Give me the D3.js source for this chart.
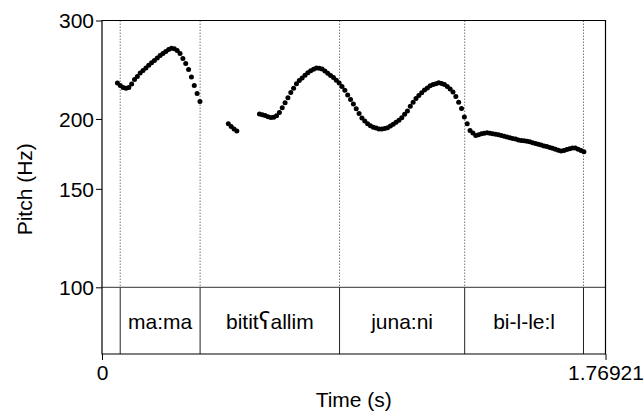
<!DOCTYPE html>
<html><head><meta charset="utf-8">
<script src="https://cdn.jsdelivr.net/npm/d3@7"></script>
<style>
html,body{margin:0;padding:0;background:#fff;}
svg text{font-family:"Liberation Sans",Arial,Helvetica,sans-serif;fill:#000;}
</style></head>
<body><svg id="c" width="644" height="413"></svg>
<script>
// ---- data ----
const frameStep = 0.01;           // pitch frame step (s)
const totalDuration = 1.76921;    // s
const yTicks = [100, 150, 200, 300];
const seg1Start = 0.0542;
const seg1Hz = [232.0,229.6,227.7,226.9,227.7,231.0,235.3,238.2,241.7,244.2,246.7,249.5,252.2,254.5,257.1,259.8,261.9,264.1,266.3,267.6,267.0,265.2,261.9,256.6,251.3,245.2,237.7,229.6,222.2,215.0];
const seg2Start = 0.4439;
const seg2Hz = [196.0,193.9,192.0,190.4];
const seg3Start = 0.5533;
const seg3Hz = [204.2,203.5,202.8,201.8,201.2,201.4,202.6,205.5,209.5,213.9,218.3,223.1,227.0,231.1,234.3,236.7,239.5,242.0,243.9,245.4,246.6,246.5,245.6,243.7,241.4,239.3,237.2,234.6,232.0,228.5,225.2,220.7,216.6,212.7,208.5,204.5,200.7,198.3,196.2,194.5,193.2,192.6,192.0,192.0,192.4,192.9,194.2,195.6,197.3,199.0,201.1,204.0,206.7,210.8,214.3,217.6,220.3,222.9,225.4,227.3,229.3,230.4,231.3,232.2,231.5,230.4,228.5,226.2,223.4,219.3,214.2,208.9,201.7,196.1,190.8,188.7,186.8,187.4,188.1,188.5,189.0,188.6,188.2,187.8,187.4,186.8,186.3,185.7,185.2,184.6,184.1,183.5,183.1,182.8,182.4,182.0,181.4,180.8,180.3,179.6,179.0,178.5,177.9,177.2,176.6,175.8,175.2,175.6,176.4,176.9,177.5,177.4,176.5,175.6,174.8];
const boundaries = [0.064, 0.3447, 0.8347, 1.2744, 1.6919];
const intervalLabels = ["ma:ma", "bititʕallim", "juna:ni", "bi-l-le:l"];

// ---- layout ----
const svg = d3.select("#c");
const L = 102, R = 605.5, T = 20.5, B = 287.3, TB = 354;
const x = d3.scaleLinear().domain([0, totalDuration]).range([L, R]);
const y = d3.scaleLog().domain([100, 300]).range([B, T]);

const pts = [];
[[seg1Start, seg1Hz], [seg2Start, seg2Hz], [seg3Start, seg3Hz]].forEach(([s, arr]) => {
  arr.forEach((f, i) => pts.push({t: s + i * frameStep, f}));
});

// dotted boundary lines in pitch area
svg.append("g").selectAll("line").data(boundaries).join("line")
  .attr("x1", d => x(d)).attr("x2", d => x(d))
  .attr("y1", T).attr("y2", B)
  .attr("stroke", "#777").attr("stroke-width", 1).attr("stroke-dasharray", "1.5,1.5");

// tier boundaries (solid)
svg.append("g").selectAll("line").data(boundaries).join("line")
  .attr("x1", d => x(d)).attr("x2", d => x(d))
  .attr("y1", B).attr("y2", TB)
  .attr("stroke", "#222").attr("stroke-width", 1);

// horizontal line at 100 Hz / tier top
svg.append("line").attr("x1", L).attr("x2", R).attr("y1", y(100)).attr("y2", y(100))
  .attr("stroke", "#333").attr("stroke-width", 1);

// frame
svg.append("path")
  .attr("d", `M${L},${T}H${R}V${TB}H${L}Z`)
  .attr("fill", "none").attr("stroke", "#000").attr("stroke-width", 1.2);

// pitch dots
svg.append("g").selectAll("circle").data(pts).join("circle")
  .attr("cx", d => x(d.t)).attr("cy", d => y(d.f)).attr("r", 2.5).attr("fill", "#000");

// y axis
const yAxis = d3.axisLeft(y).tickValues(yTicks).tickFormat(d3.format("d")).tickSize(6).tickPadding(2);
const gy = svg.append("g").attr("transform", `translate(${L},0)`).call(yAxis);
gy.select(".domain").remove();
gy.selectAll(".tick line").attr("stroke", "#000");
gy.selectAll(".tick text").attr("font-size", 21).attr("dy", "0.35em");

// x axis ticks
const xAxis = d3.axisBottom(x).tickValues([0, totalDuration]).tickFormat(d => d === 0 ? "0" : String(totalDuration)).tickSize(6).tickPadding(5);
const gx = svg.append("g").attr("transform", `translate(0,${TB})`).call(xAxis);
gx.select(".domain").remove();
gx.selectAll(".tick line").attr("stroke", "#000");
gx.selectAll(".tick text").attr("font-size", 21);

// interval labels (the pharyngeal ʕ drawn a little larger, as in the original)
const mids = intervalLabels.map((s, i) => ({s, m: (boundaries[i] + boundaries[i + 1]) / 2}));
svg.append("g").selectAll("text").data(mids).join("text")
  .attr("x", d => x(d.m)).attr("y", 328.5).attr("text-anchor", "middle")
  .attr("font-size", 21)
  .each(function(d) {
    const t = d3.select(this);
    d.s.split(/(ʕ)/).filter(p => p.length).forEach(p => {
      const sp = t.append("tspan").text(p);
      if (p === "ʕ") sp.attr("font-family", "DejaVu Sans").attr("font-size", 23);
    });
  });

// axis titles
svg.append("text").attr("x", (L + R) / 2).attr("y", 407).attr("text-anchor", "middle")
  .attr("font-size", 21).text("Time (s)");
svg.append("text").attr("transform", `translate(32,${(T + TB) / 2 + 2}) rotate(-90)`)
  .attr("text-anchor", "middle").attr("font-size", 21).text("Pitch (Hz)");
</script></body></html>
